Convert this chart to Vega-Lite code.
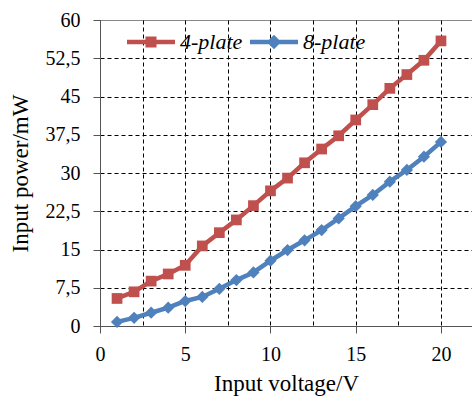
{
  "$schema": "https://vega.github.io/schema/vega-lite/v6.json",
  "width": 372,
  "height": 306,
  "autosize": {"type": "none"},
  "padding": {"left": 100, "top": 20, "right": 0, "bottom": 73},
  "background": "white",
  "config": {
    "view": {"stroke": "#888888", "strokeWidth": 1},
    "font": "Liberation Serif",
    "axis": {
      "labelFont": "Liberation Serif",
      "labelFontSize": 20,
      "labelColor": "black",
      "titleFont": "Liberation Serif",
      "titleFontSize": 23,
      "titleFontWeight": "normal",
      "titleColor": "black",
      "domainColor": "#555555",
      "tickColor": "#555555",
      "tickSize": 7,
      "gridColor": "black",
      "gridOpacity": 1,
      "gridWidth": 1,
      "gridDash": [4, 3]
    },
    "legend": {
      "labelFont": "Liberation Serif"
    }
  },
  "data": {
    "values": [
      {"v": 1, "p": 5.4, "series": "4-plate"},
      {"v": 2, "p": 6.7, "series": "4-plate"},
      {"v": 3, "p": 8.8, "series": "4-plate"},
      {"v": 4, "p": 10.2, "series": "4-plate"},
      {"v": 5, "p": 11.9, "series": "4-plate"},
      {"v": 6, "p": 15.7, "series": "4-plate"},
      {"v": 7, "p": 18.3, "series": "4-plate"},
      {"v": 8, "p": 20.8, "series": "4-plate"},
      {"v": 9, "p": 23.6, "series": "4-plate"},
      {"v": 10, "p": 26.5, "series": "4-plate"},
      {"v": 11, "p": 29.0, "series": "4-plate"},
      {"v": 12, "p": 32.0, "series": "4-plate"},
      {"v": 13, "p": 34.7, "series": "4-plate"},
      {"v": 14, "p": 37.3, "series": "4-plate"},
      {"v": 15, "p": 40.4, "series": "4-plate"},
      {"v": 16, "p": 43.4, "series": "4-plate"},
      {"v": 17, "p": 46.6, "series": "4-plate"},
      {"v": 18, "p": 49.3, "series": "4-plate"},
      {"v": 19, "p": 52.1, "series": "4-plate"},
      {"v": 20, "p": 55.9, "series": "4-plate"},
      {"v": 1, "p": 0.8, "series": "8-plate"},
      {"v": 2, "p": 1.6, "series": "8-plate"},
      {"v": 3, "p": 2.6, "series": "8-plate"},
      {"v": 4, "p": 3.6, "series": "8-plate"},
      {"v": 5, "p": 4.9, "series": "8-plate"},
      {"v": 6, "p": 5.7, "series": "8-plate"},
      {"v": 7, "p": 7.3, "series": "8-plate"},
      {"v": 8, "p": 9.0, "series": "8-plate"},
      {"v": 9, "p": 10.5, "series": "8-plate"},
      {"v": 10, "p": 12.8, "series": "8-plate"},
      {"v": 11, "p": 14.9, "series": "8-plate"},
      {"v": 12, "p": 16.8, "series": "8-plate"},
      {"v": 13, "p": 18.8, "series": "8-plate"},
      {"v": 14, "p": 21.1, "series": "8-plate"},
      {"v": 15, "p": 23.5, "series": "8-plate"},
      {"v": 16, "p": 25.7, "series": "8-plate"},
      {"v": 17, "p": 28.3, "series": "8-plate"},
      {"v": 18, "p": 30.6, "series": "8-plate"},
      {"v": 19, "p": 33.2, "series": "8-plate"},
      {"v": 20, "p": 36.1, "series": "8-plate"}
    ]
  },
  "encoding": {
    "x": {
      "field": "v",
      "type": "quantitative",
      "scale": {"domain": [0, 21.82], "nice": false, "zero": false},
      "axis": {
        "title": "Input voltage/V",
        "values": [0, 2.5, 5, 7.5, 10, 12.5, 15, 17.5, 20],
        "labelExpr": "datum.value % 5 === 0 ? format(datum.value, 'd') : ''",
        "tickOpacity": {"condition": {"test": "datum.value % 5 === 0", "value": 1}, "value": 0},
        "labelPadding": 11,
        "titlePadding": 8,
        "labelFlush": false,
        "labelOverlap": false
      }
    },
    "y": {
      "field": "p",
      "type": "quantitative",
      "scale": {"domain": [0, 60], "nice": false},
      "axis": {
        "title": "Input power/mW",
        "values": [0, 7.5, 15, 22.5, 30, 37.5, 45, 52.5, 60],
        "labelExpr": "replace(format(datum.value, '.1~f'), '.', ',')",
        "gridOpacity": {"condition": {"test": "datum.value === 60", "value": 0}, "value": 1},
        "labelPadding": 13,
        "titlePadding": 13,
        "labelOverlap": false
      }
    }
  },
  "layer": [
    {
      "mark": {"type": "line", "strokeWidth": 4.5},
      "encoding": {
        "color": {
          "field": "series",
          "type": "nominal",
          "scale": {"domain": ["4-plate", "8-plate"], "range": ["#C0504D", "#4F81BD"]},
          "legend": null
        }
      }
    },
    {
      "mark": {"type": "point", "filled": true, "opacity": 1},
      "encoding": {
        "color": {
          "field": "series",
          "type": "nominal",
          "scale": {"domain": ["4-plate", "8-plate"], "range": ["#C0504D", "#4F81BD"]},
          "legend": null
        },
        "shape": {
          "field": "series",
          "type": "nominal",
          "scale": {"domain": ["4-plate", "8-plate"], "range": ["square", "diamond"]},
          "legend": null
        },
        "size": {
          "field": "series",
          "type": "nominal",
          "scale": {"domain": ["4-plate", "8-plate"], "range": [115, 150]},
          "legend": null
        }
      }
    },
    {
      "mark": {"type": "point", "filled": true, "opacity": 0},
      "encoding": {
        "color": {
          "field": "series",
          "type": "nominal",
          "scale": {"domain": ["4-plate", "8-plate"], "range": ["#C0504D", "#4F81BD"]},
          "legend": {
            "title": null,
            "orient": "none",
            "direction": "horizontal",
            "legendX": 27,
            "legendY": -2,
            "padding": 0,
            "symbolSize": 2304,
            "symbolOpacity": 1,
            "symbolStrokeWidth": 0,
            "labelFont": "Liberation Serif",
            "labelFontStyle": "italic",
            "labelFontSize": 22,
            "labelColor": "black",
            "labelOffset": 5,
            "columnPadding": 7
          }
        },
        "shape": {
          "field": "series",
          "type": "nominal",
          "scale": {
            "domain": ["4-plate", "8-plate"],
            "range": [
              "M-1,-0.09H1V0.09H-1Z M-0.23,-0.23H0.23V0.23H-0.23Z",
              "M-1,-0.09H1V0.09H-1Z M0,-0.3L0.3,0L0,0.3L-0.3,0Z"
            ]
          },
          "legend": {
            "title": null,
            "orient": "none",
            "direction": "horizontal",
            "legendX": 27,
            "legendY": -2,
            "padding": 0,
            "symbolSize": 2304,
            "symbolOpacity": 1,
            "symbolStrokeWidth": 0,
            "labelFont": "Liberation Serif",
            "labelFontStyle": "italic",
            "labelFontSize": 22,
            "labelColor": "black",
            "labelOffset": 5,
            "columnPadding": 7
          }
        }
      }
    }
  ],
  "resolve": {"scale": {"shape": "independent", "size": "independent", "color": "independent"}}
}
